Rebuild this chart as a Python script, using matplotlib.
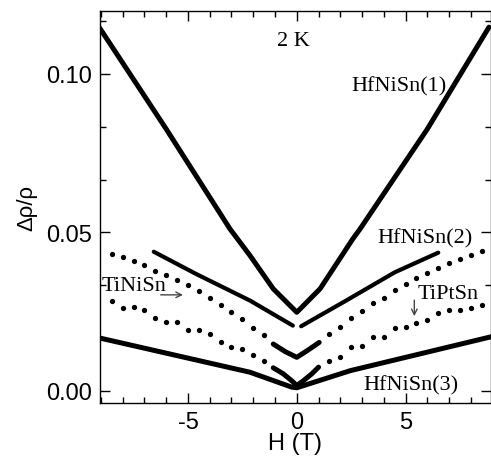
import numpy as np
import matplotlib
matplotlib.use("Agg")
import matplotlib.pyplot as plt
from matplotlib.ticker import MultipleLocator, AutoMinorLocator, FormatStrFormatter

"""
Data read off the reference (field in tesla, magnetoresistance)
"""
# HfNiSn(1) - thick solid V
h_hf1 = [-9.06, -6.0, -3.07, -2.15, -1.08, 0.0, 1.07, 2.57, 2.92, 6.0, 8.83]
mr_hf1 = [0.1145, 0.0826, 0.0511, 0.0427, 0.0322, 0.0248, 0.0322, 0.0479, 0.0512, 0.0826, 0.1147]

# HfNiSn(2) - two solid arms with a small gap at zero
h_hf2_neg = [-6.57, -4.63, -2.15, -0.18]
mr_hf2_neg = [0.0439, 0.0369, 0.0285, 0.0206]
h_hf2_pos = [0.2, 2.27, 4.5, 6.5]
mr_hf2_pos = [0.0204, 0.0285, 0.0374, 0.0436]

# HfNiSn(3) - thick solid, nearly flat
h_hf3 = [-9.06, -2.15, -0.23, 0.0, 2.46, 9.0]
mr_hf3 = [0.0167, 0.0059, 0.0012, 0.0010, 0.0064, 0.0172]

# sparse points of the dotted series
h_sparse = [-8.5, -8.0, -7.5, -7.0, -6.5, -6.0, -5.5, -5.0, -4.5, -4.0, -3.5, -3.0, -2.5, -2.0, -1.5,
            1.5, 2.0, 2.5, 3.0, 3.5, 4.0, 4.5, 5.0, 5.5, 6.0, 6.5, 7.0, 7.5, 8.0, 8.5]
mr_tinisn = [0.0432, 0.0422, 0.0411, 0.0398, 0.0379, 0.0367, 0.0351, 0.0334, 0.0314, 0.0293,
             0.0272, 0.0250, 0.0226, 0.0198, 0.0176,
             0.0178, 0.0202, 0.0229, 0.0253, 0.0276, 0.0294, 0.0318, 0.0337, 0.0355, 0.0371,
             0.0387, 0.0403, 0.0416, 0.0429, 0.0440]
mr_tiptsn = [0.0285, 0.0262, 0.0264, 0.0255, 0.0230, 0.0218, 0.0216, 0.0193, 0.0193, 0.0181,
             0.0155, 0.0137, 0.0131, 0.0113, 0.0095,
             0.0096, 0.0106, 0.0138, 0.0141, 0.0169, 0.0169, 0.0198, 0.0201, 0.0213, 0.0225,
             0.0246, 0.0255, 0.0255, 0.0262, 0.0271]

# dense low-field parts of the dotted series
h_tinisn_core = [-1.08, -0.53, 0.0, 0.5, 1.03]
mr_tinisn_core = [0.0148, 0.0124, 0.0106, 0.0128, 0.0153]
h_tiptsn_core = [-1.08, -0.62, -0.23, 0.0, 0.3, 0.69, 1.0]
mr_tiptsn_core = [0.0073, 0.0054, 0.0032, 0.0017, 0.0032, 0.0054, 0.0075]

SERIF = "Liberation Serif"
SANS = "Liberation Sans"
plt.rcParams["axes.unicode_minus"] = False

fig = plt.figure(figsize=(4.91, 4.60), dpi=100)
ax = fig.add_axes([100 / 491, 56 / 460, 390.5 / 491, 392 / 460])

LW = 3.6
ax.plot(h_hf1, mr_hf1, color="black", lw=LW, solid_capstyle="round")
ax.plot(h_hf2_neg, mr_hf2_neg, color="black", lw=LW - 0.6, solid_capstyle="round")
ax.plot(h_hf2_pos, mr_hf2_pos, color="black", lw=LW - 0.6, solid_capstyle="round")
ax.plot(h_hf3, mr_hf3, color="black", lw=LW, solid_capstyle="round")

ax.plot(h_sparse, mr_tinisn, "o", color="black", ms=3.8, mew=0)
ax.plot(h_sparse, mr_tiptsn, "o", color="black", ms=3.8, mew=0)
ax.plot(h_tinisn_core, mr_tinisn_core, color="black", lw=LW, solid_capstyle="round")
ax.plot(h_tiptsn_core, mr_tiptsn_core, color="black", lw=LW, solid_capstyle="round")

ax.set_xlim(-9.04, 8.9)
ax.set_ylim(-0.0038, 0.1198)

ax.xaxis.set_major_locator(MultipleLocator(5))
ax.xaxis.set_minor_locator(MultipleLocator(1))
ax.yaxis.set_major_locator(MultipleLocator(0.05))
ax.yaxis.set_minor_locator(AutoMinorLocator(3))
ax.yaxis.set_major_formatter(FormatStrFormatter("%.2f"))
ax.tick_params(which="both", direction="in", top=True, right=True, width=1)
ax.tick_params(which="major", length=7, pad=6)
ax.tick_params(which="minor", length=4)
for lbl in ax.get_xticklabels() + ax.get_yticklabels():
    lbl.set_fontfamily(SANS)
    lbl.set_fontsize(17)
for s in ax.spines.values():
    s.set_linewidth(1)

ax.set_xlabel("H (T)", fontsize=17, family=SANS, labelpad=-1)
ax.set_ylabel("\u0394\u03c1/\u03c1", fontsize=16, family=SANS, labelpad=6)

txt = dict(fontsize=16, family=SERIF, color="black")
ax.text(-0.92, 0.109, "2 K", **txt)
ax.text(2.53, 0.0946, "HfNiSn(1)", **txt)
ax.text(3.69, 0.0469, "HfNiSn(2)", **txt)
ax.text(3.07, 0.0006, "HfNiSn(3)", **txt)
ax.text(-8.99, 0.0319, "TiNiSn", **txt)
ax.text(5.53, 0.0292, "TiPtSn", **txt)

arrow = dict(arrowstyle="->", color="#444444", lw=1)
ax.annotate("", xy=(-5.1, 0.0303), xytext=(-6.38, 0.0303), arrowprops=arrow)
ax.annotate("", xy=(5.4, 0.0227), xytext=(5.4, 0.0295), arrowprops=arrow)

fig.savefig("out.png", dpi=100)
